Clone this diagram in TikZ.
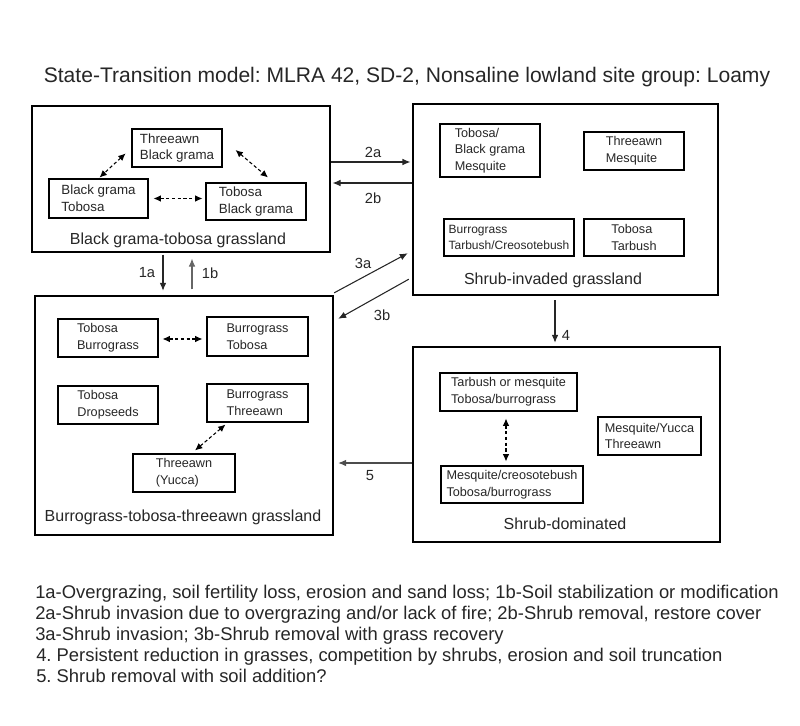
\documentclass[tikz,border=0pt]{standalone}
\usepackage{fontspec}
\setmainfont{Liberation Sans}
\frenchspacing
\usetikzlibrary{arrows.meta,fit,calc}
\tikzset{
    statebox/.style={draw, line width=1.8pt, inner sep=0pt},
    comm/.style={draw, line width=0.8pt, align=left, inner sep=2pt, text=black!85,
        font=\fontsize{9.5}{12.5}\selectfont},
    statename/.style={text=black!85, font=\fontsize{12}{14}\selectfont},
    tlabel/.style={text=black!85, font=\fontsize{11}{13}\selectfont},
    note/.style={anchor=base west, inner sep=0pt, text=black!85, font=\fontsize{13.8}{16}\selectfont},
    trans/.style={-{Latex[length=6pt,width=5pt]}, line width=0.8pt, black!85},
    dasharrow/.style={{Latex[length=5.5pt,width=5pt]}-{Latex[length=5.5pt,width=5pt]},
        line width=0.8pt, dash pattern=on 2.5pt off 1.8pt},
}
\begin{document}
\begin{tikzpicture}[x=0.75pt,y=-0.75pt]
\useasboundingbox (0,0) rectangle (800,725);

\node[font=\fontsize{15.8}{19}\selectfont, text=black!85] (title) at (407,77)
    {State-Transition model: MLRA 42, SD-2, Nonsaline lowland site group: Loamy};

% states
\node[statebox, fit={(32,106) (330,252)}] (bgt) {};
\node[statebox, fit={(413,104) (718,295)}] (sig) {};
\node[statebox, fit={(35,296) (333,535)}] (bts) {};
\node[statebox, fit={(413,347) (720,542)}] (shd) {};

\node[statename] (bgtname) at (178,240) {Black grama-tobosa grassland};
\node[statename] (signame) at (553,280) {Shrub-invaded grassland};
\node[statename] (btsname) at (183,517) {Burrograss-tobosa-threeawn grassland};
\node[statename] (shdname) at (565,524) {Shrub-dominated};

% communities, black grama-tobosa
\node[comm, font=\fontsize{10}{12.5}\selectfont, minimum width=67.5pt, minimum height=28.5pt] (thbg) at (177,148) {Threeawn\\Black grama};
\node[comm, font=\fontsize{10}{12.5}\selectfont, minimum width=74.25pt, minimum height=29.25pt] (bgto) at (98.5,198.5) {Black grama\\Tobosa};
\node[comm, font=\fontsize{10}{12.5}\selectfont, minimum width=75pt, minimum height=27.75pt] (tobg) at (256,201.5) {Tobosa\\Black grama};

\draw[dasharrow, shorten <=6pt, shorten >=1pt] (thbg.west) -- (bgto.north);
\draw[dasharrow] ($(thbg.east)+(13,2)$) -- ($(tobg.north)+(12,-5)$);
\draw[dasharrow] ($(bgto.east)+(5,0)$) -- ($(bgto.east -| tobg.west)+(-3,0)$);

% shrub-invaded
\node[comm, minimum width=75pt, minimum height=39.75pt, inner sep=1pt] (tbm) at (490,150.5) {Tobosa/\\Black grama\\Mesquite};
\node[comm, minimum width=75pt, minimum height=28.5pt] (thm) at (634,151) {Threeawn\\Mesquite};
\node[comm, font=\fontsize{9}{12.5}\selectfont, minimum width=97.5pt, minimum height=27.75pt, inner sep=1pt] (btc) at (509,237.5) {Burrograss\\Tarbush/Creosotebush};
\node[comm, minimum width=75pt, minimum height=27.75pt] (tot) at (634,237.5) {Tobosa\\Tarbush};

% burrograss-tobosa-threeawn
\node[comm, minimum width=75pt, minimum height=28.5pt] (tobu) at (108,338) {Tobosa\\Burrograss};
\node[comm, minimum width=75.75pt, minimum height=29.25pt] (buto) at (257.5,336.5) {Burrograss\\Tobosa};
\node[comm, minimum width=75pt, minimum height=28.5pt] (todr) at (108,405) {Tobosa\\Dropseeds};
\node[comm, minimum width=75.75pt, minimum height=28.5pt] (buth) at (257.5,403) {Burrograss\\Threeawn};
\node[comm, minimum width=76.5pt, minimum height=28.5pt] (thyu) at (184,473) {Threeawn\\(Yucca)};

\draw[dasharrow] ($(tobu.east)+(4,1)$) -- ($(tobu.east -| buto.west)+(-4,1)$);
\draw[dasharrow] ($(buth.south)+(-32,2)$) -- ($(thyu.north)+(11,-3)$);

% shrub-dominated
\node[comm, minimum width=102.75pt, minimum height=28.5pt] (tamt) at (508.5,392) {Tarbush or mesquite\\Tobosa/burrograss};
\node[comm, minimum width=106.5pt, minimum height=27.75pt, inner sep=1pt] (mct) at (512,484.5) {Mesquite/creosotebush\\Tobosa/burrograss};
\node[comm, minimum width=77.25pt, minimum height=28.5pt, inner sep=1pt] (myt) at (649.5,436) {Mesquite/Yucca\\Threeawn};

\draw[dasharrow] ($(tamt.south)+(-2.5,7)$) -- ($(mct.north)+(-6,-4)$);

% transitions
\draw[trans, shorten >=1pt] ($(bgt.east)+(0,-17)$) -- ($(bgt.east -| sig.west)+(0,-17)$);
\draw[trans, shorten >=1pt] ($(sig.west)+(0,-16.5)$) -- ($(sig.west -| bgt.east)+(0,-16.5)$);
\draw[trans, shorten <=1pt, shorten >=3pt] ($(bgt.south)+(-18,0)$) -- ($(bgt.south |- bts.north)+(-18,0)$);
\draw[trans, black!60, shorten <=4pt, shorten >=4pt] ($(bgt.south |- bts.north)+(11,0)$) -- ($(bgt.south)+(11,0)$);
\draw[trans] ($(bts.north east)+(0,-2)$) -- ($(sig.south west)+(-4,-43)$);
\draw[trans] ($(sig.south west)+(-3,-17)$) -- ($(bts.north east)+(4,24)$);
\draw[trans] ($(sig.south)+(-10.5,4)$) -- ($(shd.north)+(-11.5,-3)$);
\draw[trans, black!70] ($(shd.west)+(0,18.5)$) -- ($(shd.west -| bts.east)+(4,18.5)$);

\node[tlabel] (l2a) at (373,152) {2a};
\node[tlabel] (l2b) at (373,198) {2b};
\node[tlabel] (l1a) at (147,273) {1a};
\node[tlabel] (l1b) at (210,273) {1b};
\node[tlabel] (l3a) at (363,263) {3a};
\node[tlabel] (l3b) at (382,315) {3b};
\node[tlabel] (l4) at (566,335) {4};
\node[tlabel] (l5) at (370,476) {5};

% key
\node[note] (n1) at (35,598) {1a-Overgrazing, soil fertility loss, erosion and sand loss; 1b-Soil stabilization or modification};
\node[note] (n2) at (35,619) {2a-Shrub invasion due to overgrazing and/or lack of fire; 2b-Shrub removal, restore cover};
\node[note] (n3) at (35,640) {3a-Shrub invasion; 3b-Shrub removal with grass recovery};
\node[note] (n4) at (36,661) {4. Persistent reduction in grasses, competition by shrubs, erosion and soil truncation};
\node[note] (n5) at (36,682) {5. Shrub removal with soil addition?};
\end{tikzpicture}
\end{document}
